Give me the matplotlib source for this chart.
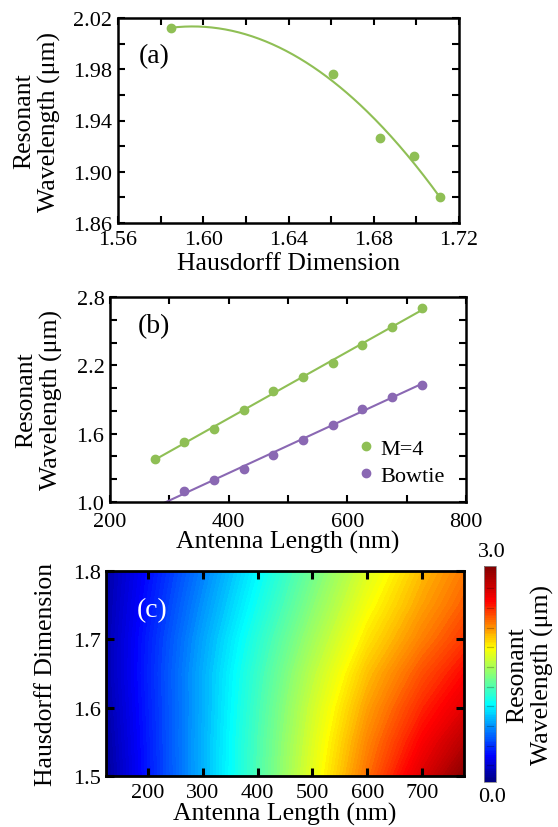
import numpy as np
import matplotlib
matplotlib.use('Agg')
import matplotlib.pyplot as plt
from matplotlib.colors import LinearSegmentedColormap
from matplotlib.ticker import MultipleLocator, FixedLocator, FormatStrFormatter

plt.rcParams['font.family'] = ['Liberation Serif', 'DejaVu Serif']

# ---------------- data ----------------
# (a) resonant wavelength vs Hausdorff dimension
hd_dim = [1.585, 1.661, 1.683, 1.699, 1.711]
hd_wl = [2.012, 1.976, 1.926, 1.912, 1.880]

# (b) resonant wavelength vs antenna length
len_m4 = [275, 325, 375, 425, 475, 525, 575, 625, 675, 725]
wl_m4 = [1.376, 1.523, 1.643, 1.810, 1.972, 2.098, 2.219, 2.380, 2.539, 2.703]
len_bowtie = [325, 375, 425, 475, 525, 575, 625, 675, 725]
wl_bowtie = [1.100, 1.197, 1.294, 1.411, 1.543, 1.675, 1.819, 1.925, 2.031]

# (c) resonant wavelength map (rows: Hausdorff dimension, cols: antenna length)
map_len = [125, 200, 300, 400, 500, 600, 700, 775]
map_dim = [1.50, 1.55, 1.60, 1.65, 1.70, 1.75, 1.80]
map_wl = [
    [0.08, 0.42, 0.86, 1.31, 1.78, 2.23, 2.65, 2.95],
    [0.10, 0.43, 0.86, 1.30, 1.75, 2.17, 2.53, 2.78],
    [0.12, 0.44, 0.85, 1.28, 1.71, 2.10, 2.42, 2.62],
    [0.14, 0.45, 0.85, 1.25, 1.65, 2.02, 2.31, 2.50],
    [0.14, 0.44, 0.82, 1.20, 1.57, 1.92, 2.19, 2.37],
    [0.13, 0.41, 0.77, 1.13, 1.49, 1.83, 2.10, 2.27],
    [0.12, 0.38, 0.72, 1.07, 1.42, 1.75, 2.03, 2.20],
]

a_yticks = [1.86, 1.90, 1.94, 1.98, 2.02]
b_yticks = [1.0, 1.6, 2.2, 2.8]
c_xticks = [200, 300, 400, 500, 600, 700]
c_yticks = [1.5, 1.6, 1.7, 1.8]

GREEN = '#8fbf55'
PURPLE = '#8a68b3'
TICK_FS = 16
LABEL_FS = 18.5
PANEL_FS = 20
LSP = 1.15

W, H = 558, 828
fig = plt.figure(figsize=(W / 100, H / 100), dpi=100)


def px_axes(l, r, t, b):
    return fig.add_axes([l / W, 1 - b / H, (r - l) / W, (b - t) / H])


def style(ax, lw=1.8):
    for s in ax.spines.values():
        s.set_linewidth(lw)
    ax.tick_params(which='both', direction='in', top=True, right=True,
                   length=5.2, width=1.5, labelsize=TICK_FS)
    ax.tick_params(axis='x', pad=5)
    ax.tick_params(axis='y', pad=4)


# ---------------- (a) ----------------
axa = px_axes(118, 459, 19, 224)
style(axa)
axa.plot(hd_dim, hd_wl, 'o', color=GREEN, ms=6, zorder=3)
coef = np.polyfit(hd_dim, hd_wl, 2)
xx = np.linspace(min(hd_dim), max(hd_dim), 200)
axa.plot(xx, np.polyval(coef, xx), color=GREEN, lw=1.5)
axa.set_xlim(1.56, 1.72)
axa.set_ylim(1.86, 2.02)
axa.xaxis.set_major_locator(MultipleLocator(0.04))
axa.xaxis.set_minor_locator(MultipleLocator(0.02))
axa.yaxis.set_major_locator(FixedLocator(a_yticks))
axa.yaxis.set_minor_locator(FixedLocator([1.88, 1.92, 1.96, 2.00]))
axa.xaxis.set_major_formatter(FormatStrFormatter('%.2f'))
axa.yaxis.set_major_formatter(FormatStrFormatter('%.2f'))
axa.set_xlabel('Hausdorff Dimension', fontsize=LABEL_FS)
axa.set_ylabel('Resonant\nWavelength (μm)', fontsize=LABEL_FS, linespacing=LSP)
axa.yaxis.set_label_coords(-0.167, 0.5)
axa.xaxis.set_label_coords(0.5, -0.14)
axa.text(0.062, 0.815, '(a)', transform=axa.transAxes, fontsize=PANEL_FS,
         va='center', ha='left')

# ---------------- (b) ----------------
axb = px_axes(110, 466, 298, 503)
style(axb)
axb.tick_params(axis='x', pad=7)
for xs, ys, col, lab in [(len_m4, wl_m4, GREEN, 'M=4'),
                         (len_bowtie, wl_bowtie, PURPLE, 'Bowtie')]:
    c = np.polyfit(xs, ys, 1)
    xl = np.array([275, 725])
    axb.plot(xl, np.polyval(c, xl), color=col, lw=1.5)
    axb.plot(xs, ys, 'o', color=col, ms=6, label=lab, zorder=3)
axb.set_xlim(200, 800)
axb.set_ylim(1.0, 2.8)
axb.xaxis.set_major_locator(MultipleLocator(200))
axb.xaxis.set_minor_locator(MultipleLocator(100))
axb.yaxis.set_major_locator(FixedLocator(b_yticks))
axb.yaxis.set_minor_locator(FixedLocator([1.2, 1.4, 1.8, 2.0, 2.4, 2.6]))
axb.yaxis.set_major_formatter(FormatStrFormatter('%.1f'))
axb.set_xlabel('Antenna Length (nm)', fontsize=LABEL_FS)
axb.set_ylabel('Resonant\nWavelength (μm)', fontsize=LABEL_FS, linespacing=LSP)
axb.yaxis.set_label_coords(-0.133, 0.5)
axb.xaxis.set_label_coords(0.5, -0.135)
axb.text(0.077, 0.861, '(b)', transform=axb.transAxes, fontsize=PANEL_FS,
         va='center', ha='left')
axb.legend(loc='center left', bbox_to_anchor=(0.695, 0.195), frameon=False,
           fontsize=TICK_FS, handlelength=0.8, handletextpad=0.25,
           labelspacing=0.3, borderpad=0, borderaxespad=0)

# ---------------- (c) ----------------
cmap = LinearSegmentedColormap.from_list('refjet', [
    (0.00, (0.0, 0.0, 0.5)),
    (0.12, (0.0, 0.0, 1.0)),
    (0.36, (0.0, 1.0, 1.0)),
    (0.62, (1.0, 1.0, 0.0)),
    (0.84, (1.0, 0.0, 0.0)),
    (1.00, (0.5, 0.0, 0.0)),
])
axc = px_axes(106.4, 463.6, 572, 777)
Lg, Dg = np.meshgrid(map_len, map_dim)
levels = np.linspace(0, 3, 121)
cf = axc.contourf(Lg, Dg, np.array(map_wl), levels=levels, cmap=cmap,
                  vmin=0, vmax=3, antialiased=False)
style(axc, lw=2.0)
axc.tick_params(which='both', length=6, width=2.2)
axc.set_xlim(125, 775)
axc.set_ylim(1.5, 1.8)
axc.xaxis.set_major_locator(FixedLocator(c_xticks))
axc.yaxis.set_major_locator(FixedLocator(c_yticks))
axc.yaxis.set_major_formatter(FormatStrFormatter('%.1f'))
axc.set_xlabel('Antenna Length (nm)', fontsize=LABEL_FS)
axc.set_ylabel('Hausdorff Dimension', fontsize=LABEL_FS)
axc.yaxis.set_label_coords(-0.138, 0.5)
axc.xaxis.set_label_coords(0.5, -0.128)
axc.text(0.085, 0.81, '(c)', transform=axc.transAxes, fontsize=PANEL_FS,
         va='center', ha='left', color='white')

# colorbar
cax = px_axes(484, 496, 567, 783)
cb = fig.colorbar(cf, cax=cax, ticks=[])
cb.outline.set_linewidth(0.6)
cb.outline.set_edgecolor('#888888')
for v in np.linspace(0.23, 2.69, 10):
    cax.plot([0.25, 0.75], [v, v], transform=cax.get_yaxis_transform(),
             color='black', alpha=0.25, lw=0.9)
fig.text(492 / W, 1 - 553 / H, '3.0', fontsize=TICK_FS, ha='center', va='center')
fig.text(492 / W, 1 - 798 / H, '0.0', fontsize=TICK_FS, ha='center', va='center')
fig.text(530 / W, 1 - 675 / H, 'Resonant\nWavelength (μm)', fontsize=LABEL_FS,
         rotation=90, ha='center', va='center', linespacing=LSP)

fig.savefig('out.png', dpi=100)
